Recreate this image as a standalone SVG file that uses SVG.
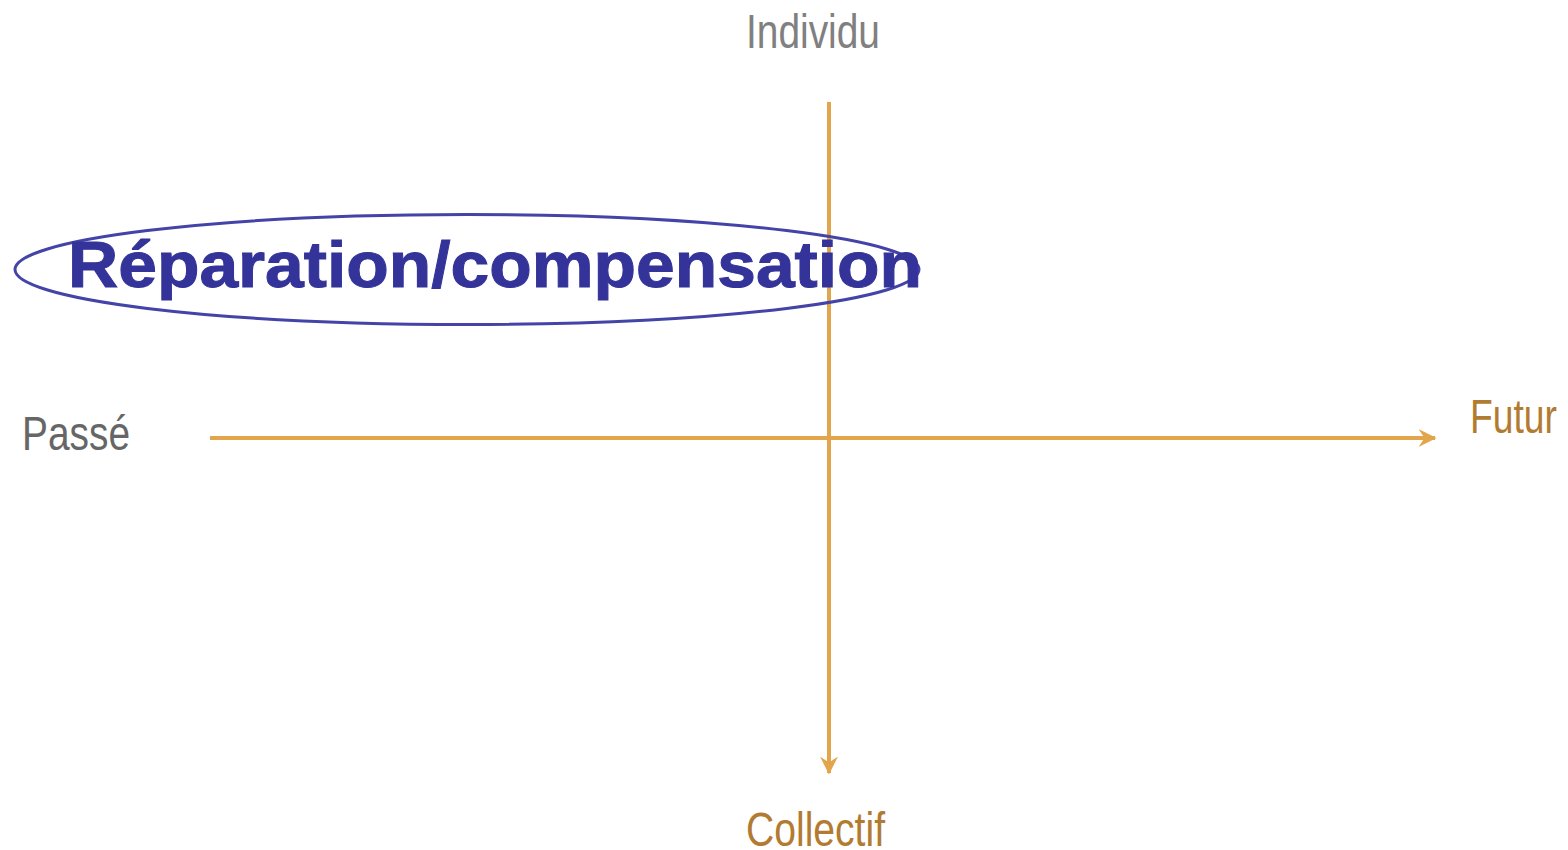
<svg xmlns="http://www.w3.org/2000/svg" width="1568" height="850" viewBox="0 0 1568 850">
<style>
.lbl{font-family:"Liberation Sans",Arial,sans-serif;font-size:48px}
.axis{stroke:#E3A54B;stroke-width:4;fill:none}
</style>
<defs>
<marker id="ah" viewBox="0 0 12 12" refX="11" refY="6" markerWidth="4.5" markerHeight="4.5" markerUnits="strokeWidth" orient="auto">
<path d="M0,0 L12,6 L0,12 L4,6 Z" fill="#E3A54B"/>
</marker>
</defs>
<rect width="1568" height="850" fill="#fff"/>
<g id="connectors">
<line class="axis" x1="210" y1="438" x2="1435" y2="438" marker-end="url(#ah)"/>
<line class="axis" x1="829" y1="102" x2="829" y2="773" marker-end="url(#ah)"/>
</g>
<g id="individu"><text class="lbl" x="746" y="48" fill="#808080" textLength="134" lengthAdjust="spacingAndGlyphs">Individu</text></g>
<g id="passe"><text class="lbl" x="22" y="450" fill="#666666" textLength="108" lengthAdjust="spacingAndGlyphs">Passé</text></g>
<g id="futur"><text class="lbl" x="1470" y="433" fill="#B27B32" textLength="87" lengthAdjust="spacingAndGlyphs">Futur</text></g>
<g id="collectif"><text class="lbl" x="746" y="846" fill="#B27B32" textLength="139" lengthAdjust="spacingAndGlyphs">Collectif</text></g>
<g id="reparation">
<ellipse cx="467" cy="269.5" rx="452" ry="55" fill="none" stroke="#4343A8" stroke-width="3"/>
<text x="68" y="287" font-family="'Liberation Sans',Arial,sans-serif" font-weight="bold" font-size="64" fill="#333399" stroke="#333399" stroke-width="1" textLength="854" lengthAdjust="spacingAndGlyphs">Réparation/compensation</text>
</g>
</svg>
